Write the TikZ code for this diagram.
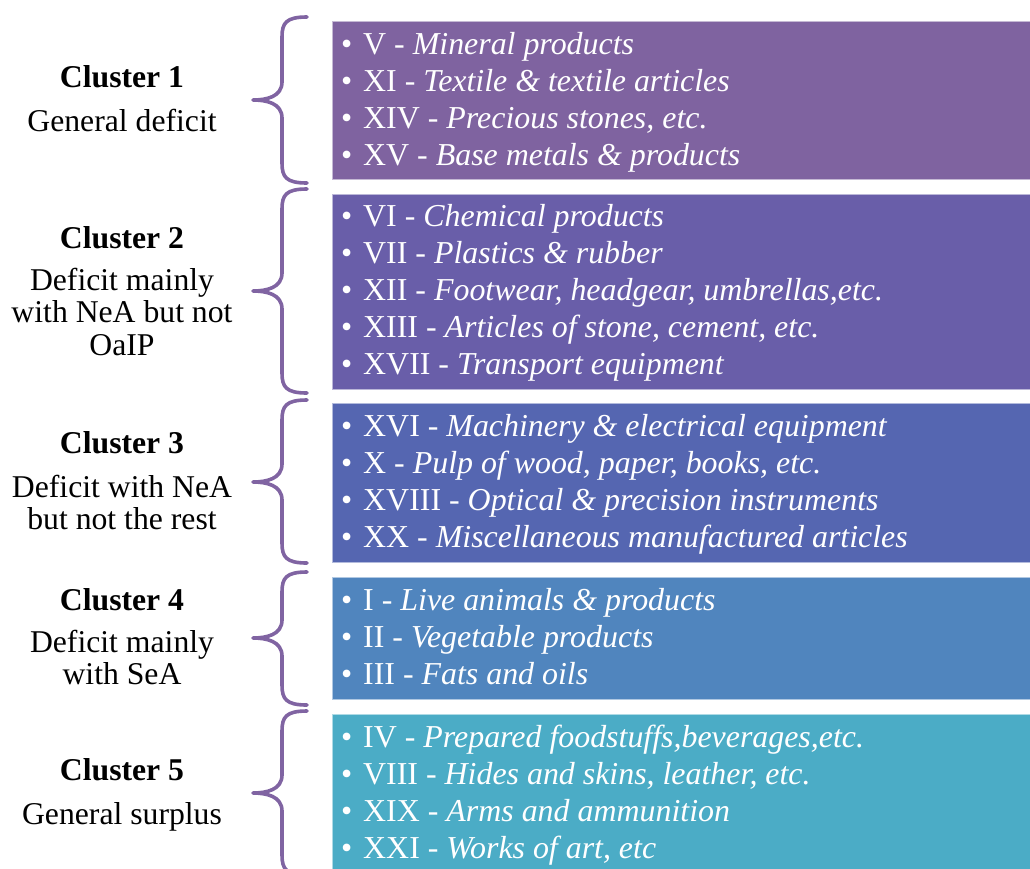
\documentclass[tikz,border=0pt]{standalone}
\usepackage{fontspec}
\setmainfont{Liberation Serif}
\definecolor{braceC}{HTML}{8064A2}
\definecolor{cA}{HTML}{7F63A0}
\definecolor{cB}{HTML}{695EA9}
\definecolor{cC}{HTML}{5566B1}
\definecolor{cD}{HTML}{5085BE}
\definecolor{cE}{HTML}{4BACC6}
\tikzset{
  band/.style={anchor=north west, inner sep=0pt, draw=white!55!#1, line width=0.8pt, fill=#1},
  item/.style={anchor=base west, inner sep=0pt, text=white, font=\fontsize{31.9}{37}\selectfont},
  dot/.style={anchor=base west, inner sep=0pt, text=white, font=\fontsize{31.9}{37}\selectfont},
  head/.style={anchor=base, inner sep=0pt, font=\fontsize{31.7}{37}\selectfont\bfseries},
  sub/.style={anchor=base, inner sep=0pt, font=\fontsize{31.7}{37}\selectfont},
  brace/.style={draw=braceC, line width=3.6pt, line cap=round, line join=round}
}
\newcommand{\mybrace}[4]{% name, top, tip, bottom
  \coordinate (#1t) at (307,#2);
  \coordinate (#1p) at (253,#3);
  \coordinate (#1b) at (307,#4);
  \draw[brace] (#1t) .. controls (286,#2) and (282,#2+6) .. (282,#2+20)
     -- (282,#3-18) .. controls (282,#3-3) and (266,#3) .. (#1p)
     .. controls (266,#3) and (282,#3+3) .. (282,#3+18)
     -- (282,#4-20) .. controls (282,#4-6) and (286,#4) .. (#1b);
}
\begin{document}
\begin{tikzpicture}[x=1pt,y=-1pt]
\useasboundingbox (0,0) rectangle (1030,868);
% bands
\node[band=cA, minimum width=700pt, minimum height=158pt] (b1) at (331.5,21) {};
\node[band=cB, minimum width=700pt, minimum height=195pt] (b2) at (331.5,194) {};
\node[band=cC, minimum width=700pt, minimum height=159pt] (b3) at (331.5,403) {};
\node[band=cD, minimum width=700pt, minimum height=122pt] (b4) at (331.5,577) {};
\node[band=cE, minimum width=700pt, minimum height=160pt] (b5) at (331.5,714) {};
% items
\foreach \y/\r/\t [count=\i] in {
  54/V/{Mineral products},
  91/XI/{Textile \& textile articles},
  128/XIV/{Precious stones, etc.},
  165/XV/{Base metals \& products},
  226/VI/{Chemical products},
  263/VII/{Plastics \& rubber},
  300/XII/{Footwear, headgear, umbrellas,etc.},
  337/XIII/{Articles of stone, cement, etc.},
  374/XVII/{Transport equipment},
  436/XVI/{Machinery \& electrical equipment},
  473/X/{Pulp of wood, paper, books, etc.},
  510/XVIII/{Optical \& precision instruments},
  547/XX/{Miscellaneous manufactured articles},
  610/I/{Live animals \& products},
  647/II/{Vegetable products},
  684/III/{Fats and oils},
  747/IV/{Prepared foodstuffs,beverages,etc.},
  784/VIII/{Hides and skins, leather, etc.},
  821/XIX/{Arms and ammunition},
  858/XXI/{Works of art, etc}}{
  \node[dot] (d\i) at (341,\y) {•};
  \node[item] (t\i) at (363,\y) {\r\ - \textit{\t}};
}
% braces
\mybrace{k1}{17}{100}{183}
\mybrace{k2}{189}{291}{393}
\mybrace{k3}{400}{482}{563}
\mybrace{k4}{572}{638}{705}
\mybrace{k5}{711}{793}{875}
% labels
\node[head] (h1) at (122,87) {Cluster 1};
\node[sub] (s1a) at (122,131) {General deficit};
\node[head] (h2) at (122,248) {Cluster 2};
\node[sub] (s2a) at (122,290) {Deficit mainly};
\node[sub] (s2b) at (122,322) {with NeA but not};
\node[sub] (s2c) at (122,355) {OaIP};
\node[head] (h3) at (122,453) {Cluster 3};
\node[sub] (s3a) at (122,497) {Deficit with NeA};
\node[sub] (s3b) at (122,529) {but not the rest};
\node[head] (h4) at (122,610) {Cluster 4};
\node[sub] (s4a) at (122,652) {Deficit mainly};
\node[sub] (s4b) at (122,684) {with SeA};
\node[head] (h5) at (122,780) {Cluster 5};
\node[sub] (s5a) at (122,824) {General surplus};
\end{tikzpicture}
\end{document}
